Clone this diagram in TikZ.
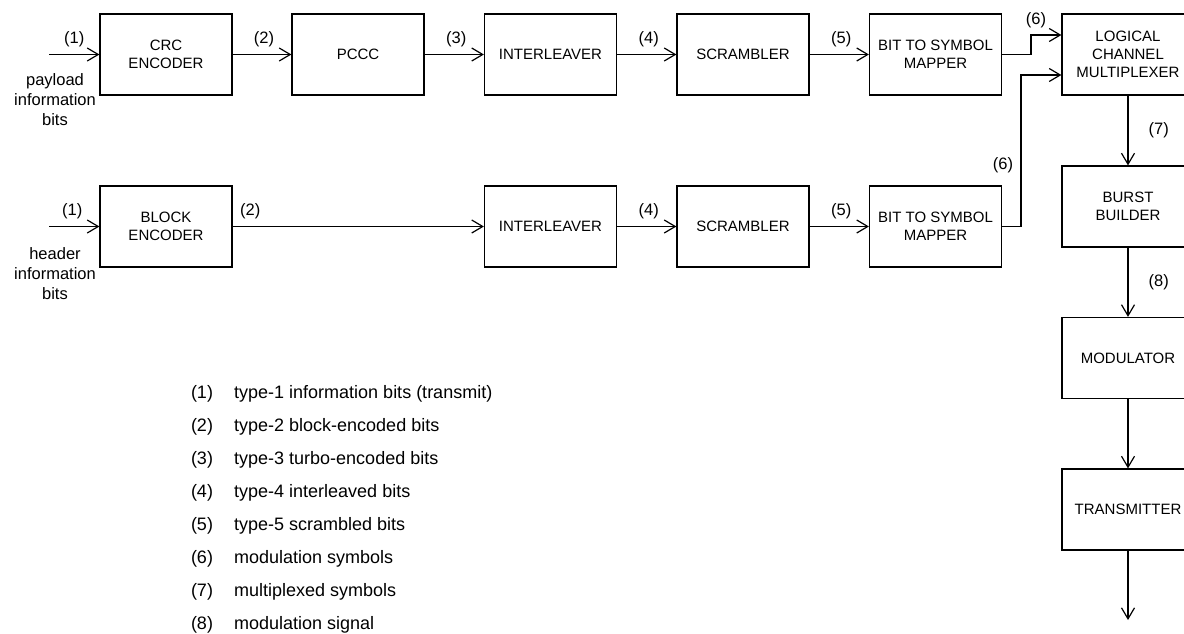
\documentclass[tikz,border=0pt]{standalone}
\usepackage{fontspec}
\setmainfont{Liberation Sans}
\usetikzlibrary{arrows.meta}

\tikzset{
  blk/.style={draw, line width=1.2pt, minimum width=132pt, minimum height=81pt,
    inner sep=0pt, align=center, font=\fontsize{15}{18}\selectfont},
  arr/.style={line width=1.2pt, -{Straight Barb[length=11pt,width=13pt,line width=1.2pt]}},
  lbl/.style={inner sep=0pt, font=\fontsize{16.5}{20}\selectfont},
  side/.style={inner sep=0pt, align=center, font=\fontsize{16.5}{20}\selectfont},
  leg/.style={inner sep=0pt, font=\fontsize{18}{22}\selectfont}
}

\begin{document}
\begin{tikzpicture}[x=1pt,y=-1pt]
        \useasboundingbox (0,0) rectangle (1184,634);
        \clip (0,0) rectangle (1184,634);
        % payload branch
        \node[blk] (crc) at (166,54.5) {CRC\\ENCODER};
        \node[blk] (pccc) at (358,54.5) {PCCC};
        \node[blk] (ilvA) at (550.5,54.5) {INTERLEAVER};
        \node[blk] (scrA) at (743,54.5) {SCRAMBLER};
        \node[blk] (mapA) at (935.5,54.5) {BIT TO SYMBOL\\MAPPER};
        % header branch
        \node[blk] (blkenc) at (166,226.5) {BLOCK\\ENCODER};
        \node[blk] (ilvB) at (550.5,226.5) {INTERLEAVER};
        \node[blk] (scrB) at (743,226.5) {SCRAMBLER};
        \node[blk] (mapB) at (935.5,226.5) {BIT TO SYMBOL\\MAPPER};
        % output chain
        \node[blk] (lcm) at (1128,54.5) {LOGICAL\\CHANNEL\\MULTIPLEXER};
        \node[blk] (burst) at (1128,206.5) {BURST\\BUILDER};
        \node[blk] (mod) at (1128,358) {MODULATOR};
        \node[blk] (tx) at (1128,509.5) {TRANSMITTER};

        \coordinate (inA) at (49,54.5);
        \coordinate (inB) at (49,226.5);
        \coordinate (out) at (1128,620);
        \node[side] (payload) at (55,100) {payload\\information\\bits};
        \node[side] (header) at (55,274) {header\\information\\bits};

        \draw[arr] (inA) -- node[lbl, above=7pt, xshift=0pt] {(1)} (crc);
        \draw[arr] (crc) -- node[lbl, above=7pt, xshift=2pt] {(2)} (pccc);
        \draw[arr] (pccc) -- node[lbl, above=7pt, xshift=2pt] {(3)} (ilvA);
        \draw[arr] (ilvA) -- node[lbl, above=7pt, xshift=2pt] {(4)} (scrA);
        \draw[arr] (scrA) -- node[lbl, above=7pt, xshift=2pt] {(5)} (mapA);

        \draw[arr] (inB) -- node[lbl, above=7pt, xshift=-2pt] {(1)} (blkenc);
        \draw[arr] (blkenc) -- node[lbl, pos=0.07, above=7pt] {(2)} (ilvB);
        \draw[arr] (ilvB) -- node[lbl, above=7pt, xshift=2pt] {(4)} (scrB);
        \draw[arr] (scrB) -- node[lbl, above=7pt, xshift=2pt] {(5)} (mapB);

        \draw[arr] (mapA) -- (1031,54.5) |- ([yshift=19.5pt]lcm.west);
        \node[lbl] (six1) at (1036,20) {(6)};
        \draw[arr] (mapB) -- (1021,226.5) |- ([yshift=-20.5pt]lcm.west);
        \node[lbl] (six2) at (1003,165) {(6)};

        \draw[arr] (lcm) -- node[lbl, right=20pt] {(7)} (burst);
        \draw[arr] (burst) -- node[lbl, right=20pt] {(8)} (mod);
        \draw[arr] (mod) -- (tx);
        \draw[arr] (tx) -- (out);

        % legend
        \foreach \i/\txt [count=\k from 0] in {1/type-1 information bits (transmit),
            2/type-2 block-encoded bits, 3/type-3 turbo-encoded bits,
            4/type-4 interleaved bits, 5/type-5 scrambled bits,
            6/modulation symbols, 7/multiplexed symbols, 8/modulation signal}
        {
            \node[leg] (num\i) at (202,394+33*\k) {(\i)};
            \node[leg, anchor=west] (def\i) at (234,394+33*\k) {\txt};
        }
\end{tikzpicture}
\end{document}
